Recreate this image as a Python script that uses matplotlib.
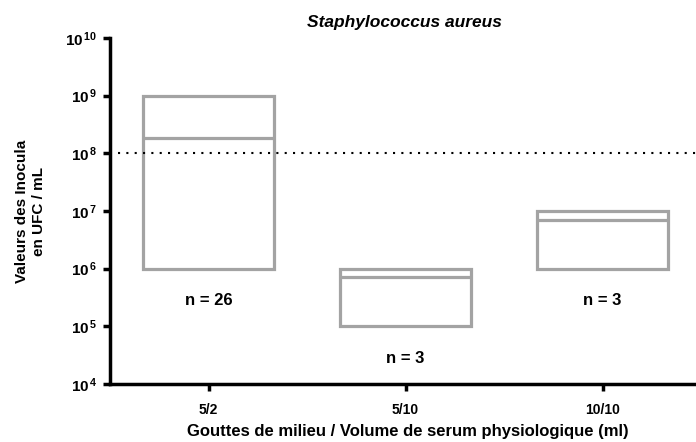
import matplotlib
matplotlib.use("Agg")
import matplotlib.pyplot as plt
import numpy as np

categories = ["5/2", "5/10", "10/10"]
lows = [1e6, 1e5, 1e6]
highs = [1e9, 1e6, 1e7]
medians = [1.85e8, 7.3e5, 6.9e6]
n_labels = ["n = 26", "n = 3", "n = 3"]
threshold = 1e8

plt.rcParams['font.family'] = ['Liberation Sans', 'DejaVu Sans']
plt.rcParams['mathtext.fontset'] = 'custom'
plt.rcParams['mathtext.bf'] = 'Liberation Sans:bold'
plt.rcParams['mathtext.rm'] = 'Liberation Sans'

fig = plt.figure(figsize=(6.96, 4.42), dpi=100)
ax = fig.add_axes([110/696, 1-384/442, 591/696, (384-38)/442])

gray = '#a3a3a3'
x = np.arange(len(categories))
w = 0.665
heights = [h - l for h, l in zip(highs, lows)]
ax.bar(x, heights, bottom=lows, width=w, fill=False, edgecolor=gray, linewidth=2.3)
ax.hlines(medians, x - w/2, x + w/2, color=gray, linewidth=2.3)

ax.set_yscale('log')
ax.set_ylim(1e4, 1e10)
ax.set_xlim(-0.5, 2.5)

ax.axhline(threshold, xmin=0.014, xmax=1, color='black', linewidth=1.5,
           linestyle=(0, (1, 3)), dash_capstyle='butt')

for xi, lo, lab in zip(x, lows, n_labels):
    ax.annotate(lab, (xi, lo), xytext=(0, -23), textcoords='offset points',
                ha='center', va='center', fontsize=12, fontweight='bold')

ax.set_xticks(x)
ax.set_xticklabels(categories, fontsize=10, fontweight='bold')
ax.set_yticks([1e4, 1e5, 1e6, 1e7, 1e8, 1e9, 1e10])
ax.set_yticklabels([r'$\mathbf{10^{\,%d}}$' % k for k in range(4, 11)], fontsize=11)
ax.yaxis.set_minor_locator(matplotlib.ticker.NullLocator())

for s in ['top', 'right']:
    ax.spines[s].set_visible(False)
for s in ['left', 'bottom']:
    ax.spines[s].set_linewidth(2.5)
ax.tick_params(axis='both', width=2.5, length=5, pad=4)
ax.tick_params(axis='x', pad=9)

ax.set_title('Staphylococcus aureus', fontsize=12.5, fontweight='bold', fontstyle='italic',
             x=(404-110)/591, pad=8)
ax.set_xlabel('Gouttes de milieu / Volume de serum physiologique (ml)', fontsize=12,
              fontweight='bold')
ax.xaxis.set_label_coords((408-110)/591, -0.115)
ax.set_ylabel('Valeurs des Inocula\nen UFC / mL', fontsize=11, fontweight='bold',
              linespacing=1.25)
ax.yaxis.set_label_coords(-0.108, 0.5)

fig.savefig('out.png', dpi=100)
